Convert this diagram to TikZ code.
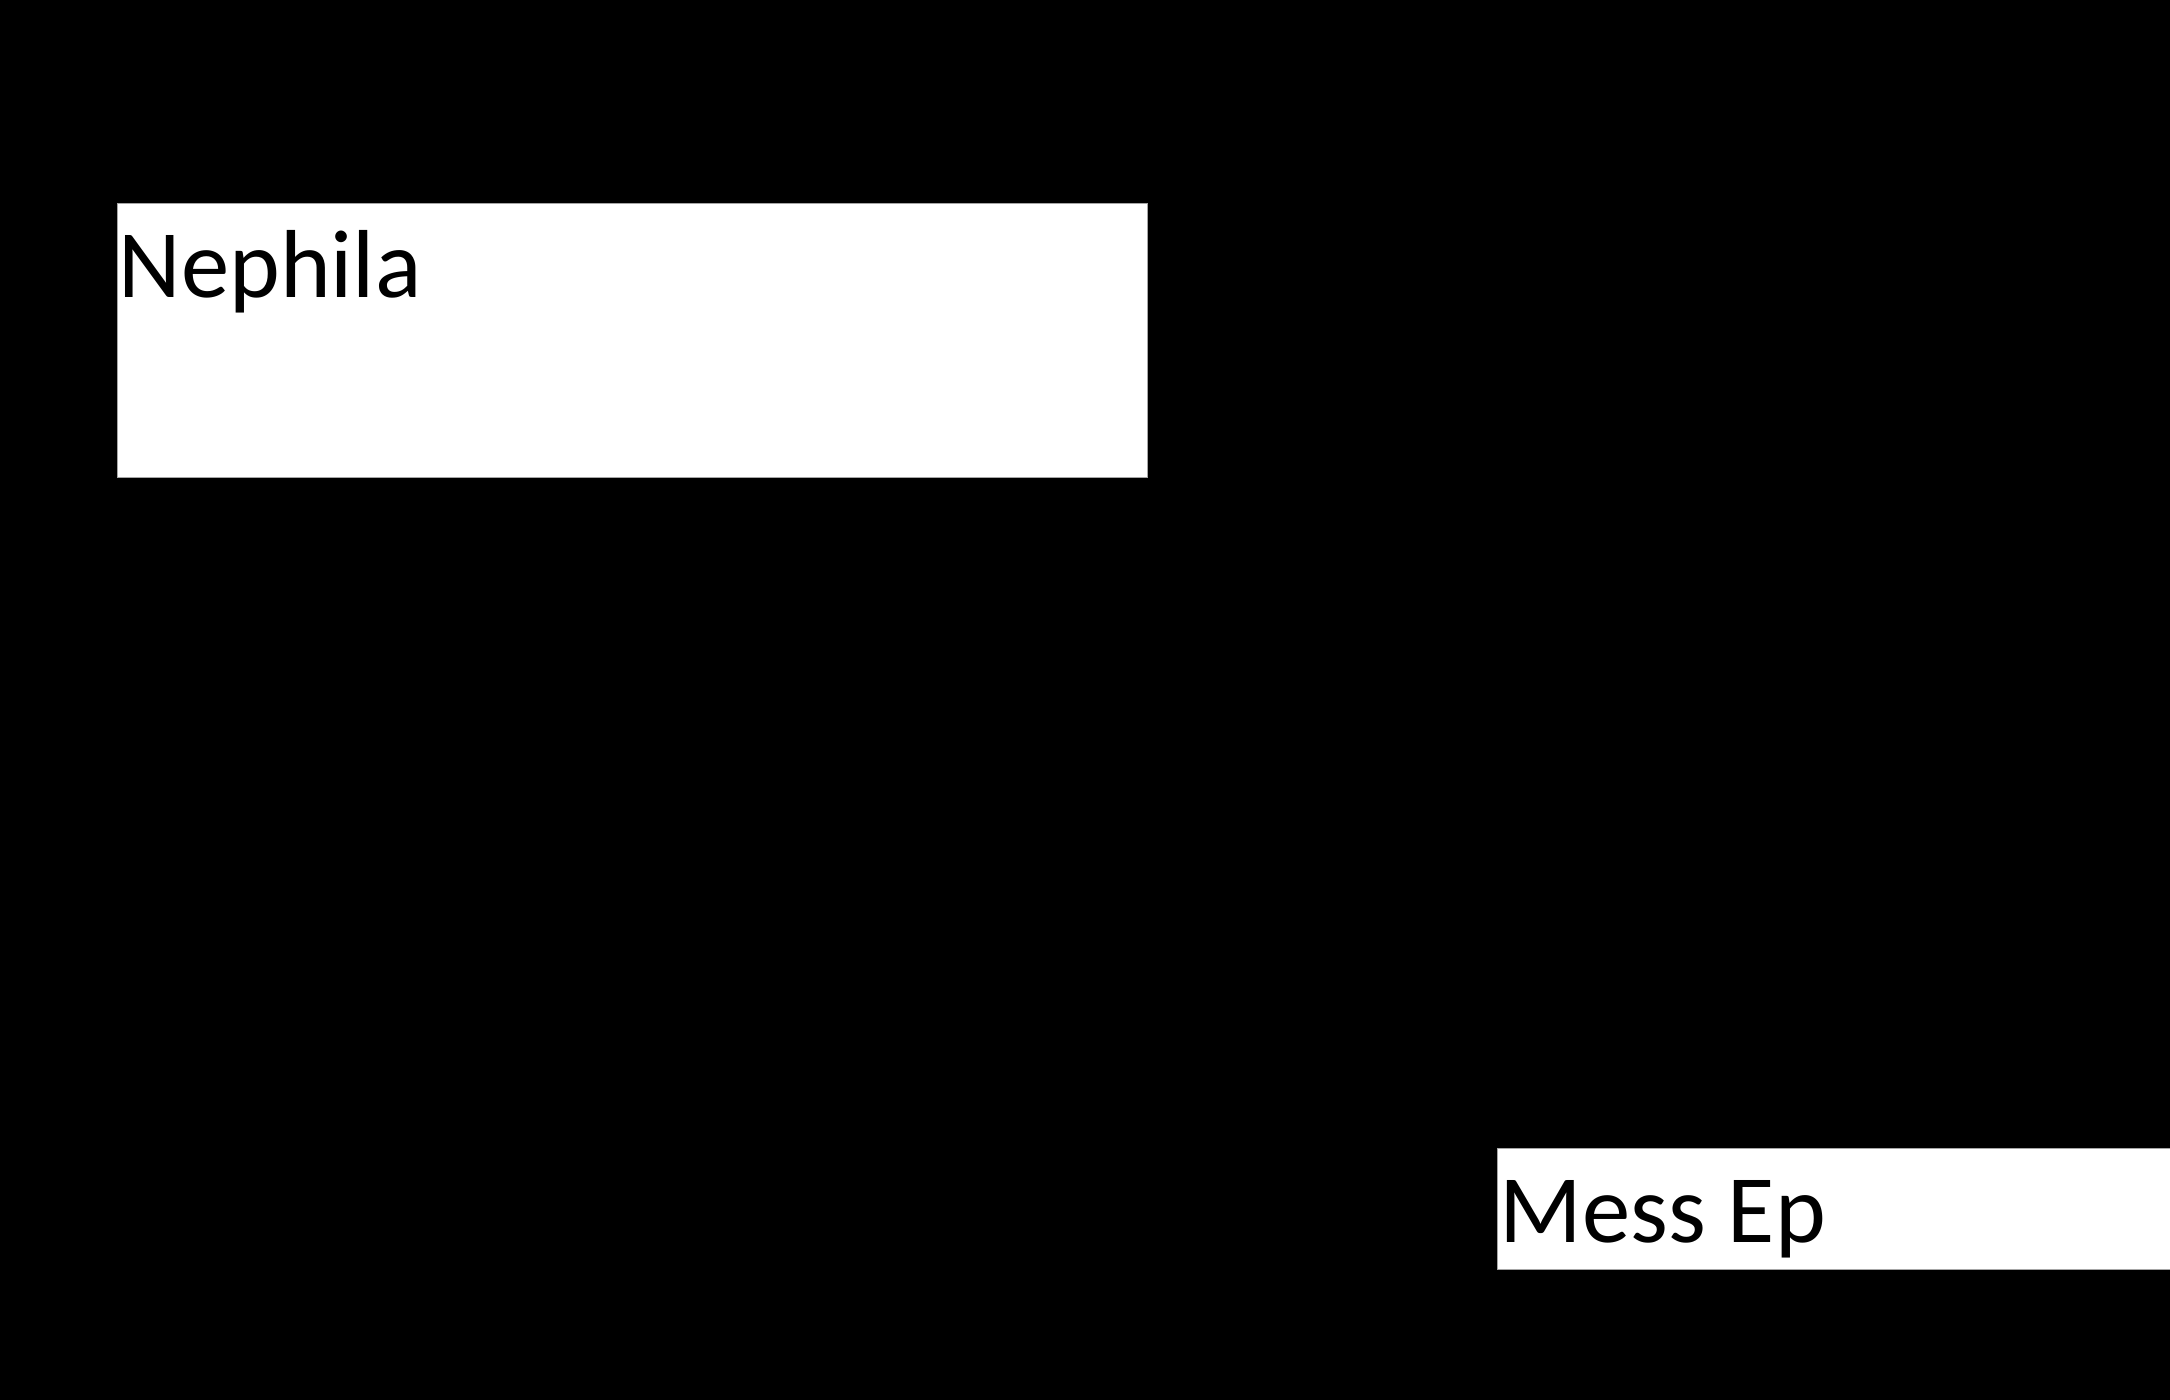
\documentclass[tikz,border=0pt]{standalone}
\usepackage{fontspec}
\setmainfont{Carlito}
\usetikzlibrary{positioning}
\tikzset{
	box/.style={fill=white, draw=gray!70, line width=0.3pt, inner sep=0pt, anchor=north west},
	lbl/.style={inner sep=0pt, anchor=base west, font=\fontsize{27.5}{33}\selectfont}
}

\begin{document}
\begin{tikzpicture}
	%\draw[help lines] (0,0) grid (21.7,14);

	\fill[black] (0,0) rectangle (21.7,14);
	\useasboundingbox (0,0) rectangle (21.7,14);

	\node[box, minimum width=10.30cm, minimum height=2.74cm] (nephila) at (1.17,11.97) {};
	\node[box, minimum width=6.80cm, minimum height=1.21cm] (messep) at (14.97,2.52) {};

	\node[lbl] (nephilatxt) at (1.18,11.02) {Nephila};
	\node[lbl] (messeptxt) at (14.99,1.57) {Mess Ep};

\end{tikzpicture}
\end{document}
